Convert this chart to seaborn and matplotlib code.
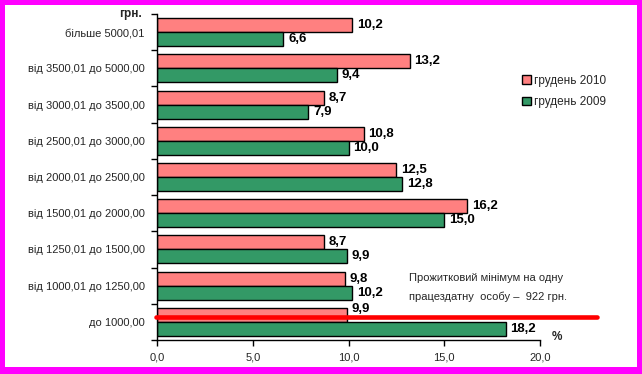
import pandas as pd
import matplotlib.pyplot as plt
import seaborn as sns
from matplotlib.lines import Line2D
from matplotlib.patches import Rectangle

categories = ['більше 5000,01', 'від 3500,01 до 5000,00', 'від 3000,01 до 3500,00',
              'від 2500,01 до 3000,00', 'від 2000,01 до 2500,00', 'від 1500,01 до 2000,00',
              'від 1250,01 до 1500,00', 'від 1000,01 до 1250,00', 'до 1000,00']
dec_2010 = [10.2, 13.2, 8.7, 10.8, 12.5, 16.2, 8.7, 9.8, 9.9]
dec_2009 = [6.6, 9.4, 7.9, 10.0, 12.8, 15.0, 9.9, 10.2, 18.2]
series = ['грудень 2010', 'грудень 2009']
x_ticks = [0, 5, 10, 15, 20]

df = pd.DataFrame({
    'cat': categories * 2,
    'val': dec_2010 + dec_2009,
    'series': [series[0]] * len(categories) + [series[1]] * len(categories),
})

sns.set_theme(style='white')
plt.rcParams['font.family'] = ['Liberation Sans', 'DejaVu Sans']

W, H = 642, 374
fig = plt.figure(figsize=(W / 100, H / 100), dpi=100)
fig.patch.set_facecolor('#FF00FF')
fig.add_artist(Rectangle((5 / W, 7 / H), 632 / W, 362 / H, transform=fig.transFigure,
                         facecolor='white', edgecolor='none', zorder=0))

ax = fig.add_axes([157 / W, 1 - 340 / H, 383 / W, 326 / H])
ax.set_facecolor('none')

sns.barplot(data=df, x='val', y='cat', hue='series', order=categories, hue_order=series,
            palette=['#FF8080', '#339966'], orient='h', width=0.77, gap=0,
            edgecolor='black', linewidth=1, saturation=1, ax=ax)

# підписи значень
for ci, cont in enumerate(ax.containers):
    for bi, bar in enumerate(cont):
        v = bar.get_width()
        y = bar.get_y() + bar.get_height() / 2
        dy = 0
        if ci == 0 and bi == len(categories) - 1:
            dy = -0.17
        ax.text(v + 0.25, y + dy, f'{v:.1f}'.replace('.', ','), va='center', ha='left',
                fontsize=9.5, fontweight='bold', color='black')

ax.set_xlim(0, 20)
ax.set_ylim(len(categories) - 0.5, -0.5)
ax.set_xticks(x_ticks)
ax.set_xticklabels([f'{t:.1f}'.replace('.', ',') for t in x_ticks], fontsize=8)
ax.set_yticks(range(len(categories)))
ax.set_yticklabels(categories, fontsize=8)
ax.set_yticks([i - 0.5 for i in range(len(categories) + 1)], minor=True)
ax.tick_params(axis='y', which='major', length=0, pad=9)
ax.tick_params(axis='y', which='minor', length=4, width=1, color='black', direction='out', left=True)
ax.tick_params(axis='x', length=4, width=1, color='black', direction='out', bottom=True, pad=5)
ax.set_xlabel('')
ax.set_ylabel('')
for s in ['top', 'right']:
    ax.spines[s].set_visible(False)
for s in ['left', 'bottom']:
    ax.spines[s].set_color('black')
    ax.spines[s].set_linewidth(1)

ax.legend(loc='upper left', bbox_to_anchor=(517 / W, 1 - 70 / H), bbox_transform=fig.transFigure,
          frameon=False, fontsize=8.5, handlelength=0.75, handleheight=0.75, handletextpad=0.3,
          labelspacing=0.8, borderaxespad=0)

fig.text(142 / W, 1 - 14 / H, 'грн.', ha='right', va='center', fontsize=8.5, fontweight='bold')
fig.text(557 / W, 1 - 337 / H, '%', ha='center', va='center', fontsize=8.5, fontweight='bold')
fig.text(409 / W, 1 - 278 / H, 'Прожитковий мінімум на одну', ha='left', va='center', fontsize=8)
fig.text(409 / W, 1 - 297 / H, 'працездатну  особу –  922 грн.', ha='left', va='center', fontsize=8)

fig.add_artist(Line2D([156 / W, 597 / W], [1 - 317 / H, 1 - 317 / H], transform=fig.transFigure,
                      color='#FF0000', linewidth=3.3, zorder=5))

plt.savefig('out.png', dpi=100, facecolor=fig.get_facecolor())
